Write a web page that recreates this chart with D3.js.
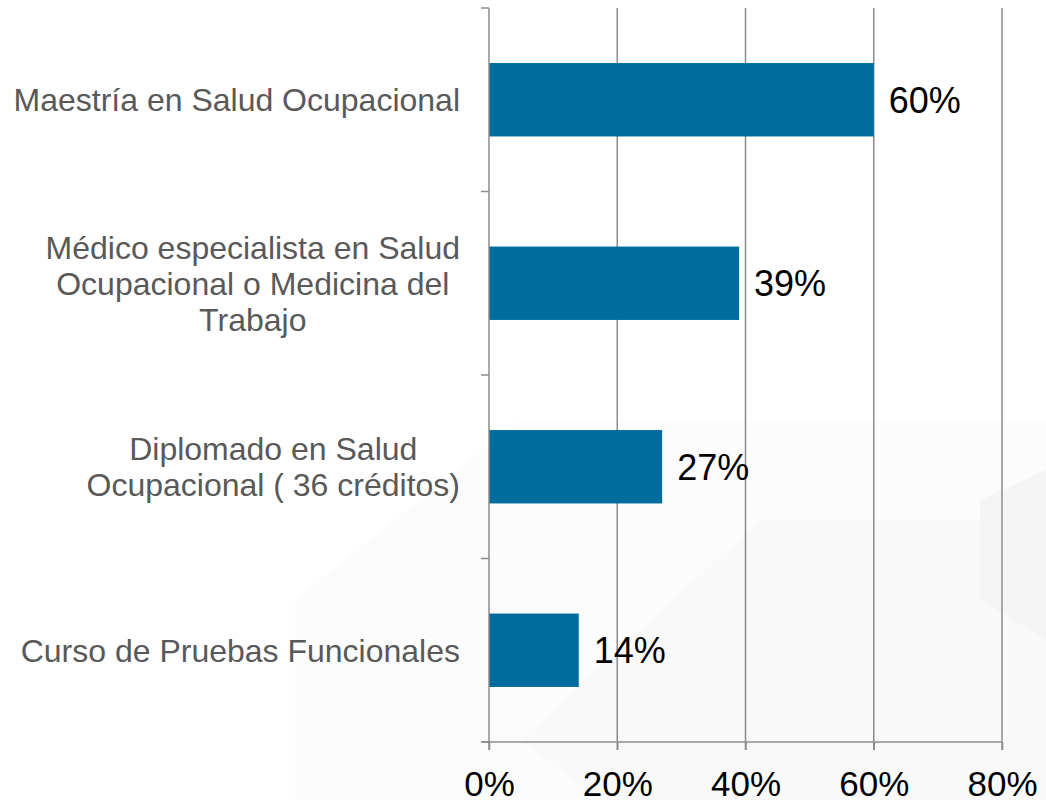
<!DOCTYPE html>
<html>
<head>
<meta charset="utf-8">
<script src="https://cdn.jsdelivr.net/npm/d3@7"></script>
<style>
  body { margin: 0; background: #fff; }
  svg { display: block; font-family: "Liberation Sans", Arial, sans-serif; }
</style>
</head>
<body>
<div id="chart-area"></div>
<script>
const categories = [
  ["Maestría en Salud Ocupacional"],
  ["Médico especialista en Salud", "Ocupacional o Medicina del", "Trabajo"],
  ["Diplomado en Salud", "Ocupacional ( 36 créditos)"],
  ["Curso de Pruebas Funcionales"]
]
const values = [0.60, 0.39, 0.27, 0.14]
const xTicks = [0, 0.2, 0.4, 0.6, 0.8]

const MARGIN = { LEFT: 489, RIGHT: 44, TOP: 8, BOTTOM: 58 }
const WIDTH = 1046 - MARGIN.LEFT - MARGIN.RIGHT
const HEIGHT = 800 - MARGIN.TOP - MARGIN.BOTTOM

const svg = d3.select("#chart-area").append("svg")
  .attr("width", 1046)
  .attr("height", 800)

// faint background watermark shapes
const bg = svg.append("g")
bg.append("polygon").attr("points", "295,600 520,420 1046,420 1046,800 295,800").attr("fill", "#fcfcfc")
bg.append("polygon").attr("points", "520,740 760,520 1046,520 1046,800 600,800").attr("fill", "#f9f9f9")
bg.append("polygon").attr("points", "980,500 1046,470 1046,640 980,600").attr("fill", "#f5f5f5")

const g = svg.append("g")
  .attr("transform", `translate(${MARGIN.LEFT}, ${MARGIN.TOP})`)

const x = d3.scaleLinear()
  .domain([0, 0.8])
  .range([0, WIDTH])

const y = d3.scaleBand()
  .domain(d3.range(categories.length))
  .range([0, HEIGHT])
  .paddingInner(0.6)
  .paddingOuter(0.3)

// vertical grid
g.append("g")
  .selectAll("line")
  .data(xTicks.slice(1))
  .enter().append("line")
    .attr("x1", d => x(d)).attr("x2", d => x(d))
    .attr("y1", 0).attr("y2", HEIGHT + 8)
    .attr("stroke", "#8c8c8c")
    .attr("stroke-width", 1.5)

// bars
g.selectAll("rect")
  .data(values)
  .enter().append("rect")
    .attr("x", 0)
    .attr("y", (d, i) => y(i))
    .attr("width", d => x(d))
    .attr("height", y.bandwidth())
    .attr("fill", "#006c9e")

// value labels
g.selectAll(".val")
  .data(values)
  .enter().append("text")
    .attr("class", "val")
    .attr("x", d => x(d) + 15)
    .attr("y", (d, i) => y(i) + y.bandwidth() / 2)
    .attr("dy", "0.36em")
    .attr("font-size", "36px")
    .attr("fill", "#000")
    .text(d => Math.round(d * 100) + "%")

// x axis
const xAxisCall = d3.axisBottom(x)
  .tickValues(xTicks)
  .tickSize(8)
  .tickFormat(d => Math.round(d * 100) + "%")

const xAxis = g.append("g")
  .attr("transform", `translate(0, ${HEIGHT})`)
  .call(xAxisCall)
xAxis.select(".domain").attr("d", `M-8,0H${WIDTH}`).attr("stroke", "#8c8c8c").attr("stroke-width", 1.5)
xAxis.selectAll(".tick line").attr("stroke", "#8c8c8c").attr("stroke-width", 1.5)
xAxis.selectAll(".tick text")
  .attr("font-size", "35px")
  .attr("font-family", "Liberation Sans, Arial, sans-serif")
  .attr("fill", "#000")
  .attr("y", 54)
  .attr("dy", null)

// y axis line + tick marks between categories
const yTicks = d3.range(categories.length + 1).map(i => i * HEIGHT / categories.length)
g.append("line")
  .attr("x1", 0).attr("x2", 0)
  .attr("y1", 0).attr("y2", HEIGHT + 8)
  .attr("stroke", "#8c8c8c").attr("stroke-width", 1.5)
g.selectAll(".ytick")
  .data(yTicks)
  .enter().append("line")
    .attr("x1", -8).attr("x2", 0)
    .attr("y1", d => d).attr("y2", d => d)
    .attr("stroke", "#8c8c8c").attr("stroke-width", 1.5)

// category labels: block right-aligned, lines centred within block
const LINE = 36
categories.forEach((lines, i) => {
  const t = g.append("text")
    .attr("font-size", "32px")
    .attr("fill", "#595959")
    .attr("text-anchor", "middle")
  const cy = y(i) + y.bandwidth() / 2
  lines.forEach((s, k) => {
    t.append("tspan")
      .attr("y", cy + (k - (lines.length - 1) / 2) * LINE)
      .attr("dy", "0.36em")
      .text(s)
  })
  let maxw = 0
  t.selectAll("tspan").each(function () { maxw = Math.max(maxw, this.getComputedTextLength()) })
  t.selectAll("tspan").attr("x", -29 - maxw / 2)
})
</script>
</body>
</html>
